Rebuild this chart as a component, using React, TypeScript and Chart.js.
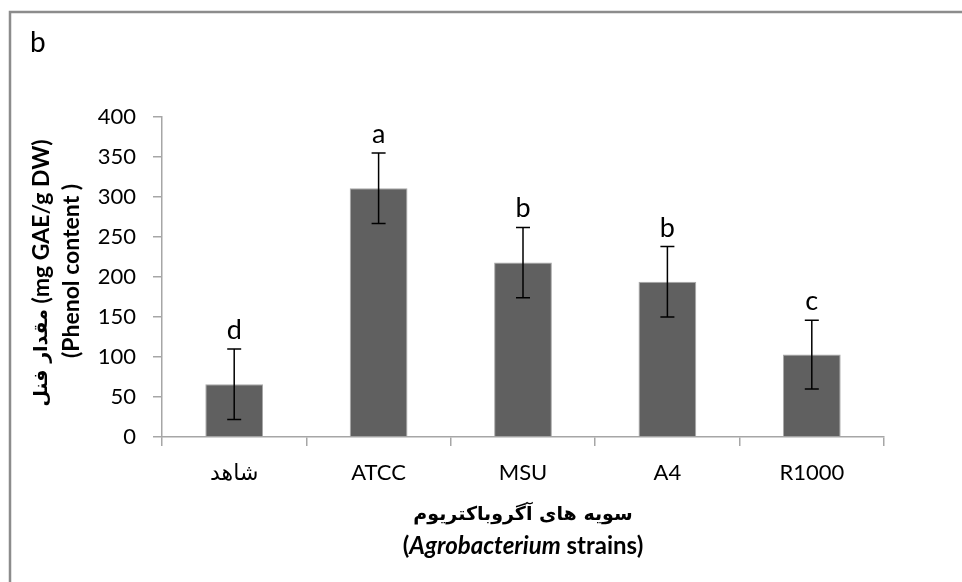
import React, { useEffect, useRef } from "react";
import { Chart, registerables } from "chart.js";

Chart.register(...registerables);

const categories = ["شاهد", "ATCC", "MSU", "A4", "R1000"];
const phenolValues = [66, 311, 218, 194, 103];
const errorValues = [44, 44, 44, 44, 43];
const groupLetters = ["d", "a", "b", "b", "c"];
const yTicks = [0, 50, 100, 150, 200, 250, 300, 350, 400];

const FONT = "Lato, 'DejaVu Sans', sans-serif";
const FA_FONT = "'DejaVu Sans', sans-serif";

function drawPieces(ctx: any, pieces: { t: string; f: string }[], cx: number, y: number) {
  const widths = pieces.map((p) => {
    ctx.font = p.f;
    return ctx.measureText(p.t).width;
  });
  const total = widths.reduce((a, b) => a + b, 0);
  let sx = cx - total / 2;
  ctx.textAlign = "left";
  pieces.forEach((p, i) => {
    ctx.font = p.f;
    ctx.fillText(p.t, sx, y);
    sx += widths[i];
  });
}

const overlayPlugin = {
  id: "overlay",
  afterDatasetsDraw(chart: any) {
    const ctx = chart.ctx;
    const xs = chart.scales.x;
    const ys = chart.scales.y;
    const area = chart.chartArea;
    ctx.save();
    ctx.direction = "ltr";
    // outer frame (top and left)
    ctx.strokeStyle = "#8c8c8c";
    ctx.lineWidth = 2.5;
    ctx.beginPath();
    ctx.moveTo(10, 582);
    ctx.lineTo(10, 12);
    ctx.lineTo(962, 12);
    ctx.stroke();

    // panel letter
    ctx.fillStyle = "#000";
    ctx.font = `28px ${FONT}`;
    ctx.textAlign = "left";
    ctx.textBaseline = "alphabetic";
    ctx.fillText("b", 30, 52);

    // error bars and letters
    ctx.strokeStyle = "#000";
    ctx.lineWidth = 1.5;
    phenolValues.forEach((v, i) => {
      const x = xs.getPixelForValue(i);
      const yTop = ys.getPixelForValue(v + errorValues[i]);
      const yBot = ys.getPixelForValue(v - errorValues[i]);
      ctx.beginPath();
      ctx.moveTo(x, yTop);
      ctx.lineTo(x, yBot);
      ctx.moveTo(x - 7, yTop);
      ctx.lineTo(x + 7, yTop);
      ctx.moveTo(x - 7, yBot);
      ctx.lineTo(x + 7, yBot);
      ctx.stroke();
      ctx.font = `27px ${FONT}`;
      ctx.textAlign = "center";
      ctx.textBaseline = "alphabetic";
      ctx.fillText(groupLetters[i], x, yTop - 10);
    });

    // y axis title (rotated)
    ctx.save();
    ctx.translate(0, 273);
    ctx.rotate(-Math.PI / 2);
    ctx.textBaseline = "middle";
    drawPieces(
      ctx,
      [
        { t: "مقدار فنل", f: `bold 19px ${FA_FONT}` },
        { t: " (mg GAE/g DW)", f: `bold 23px ${FONT}` },
      ],
      0,
      42
    );
    drawPieces(ctx, [{ t: "(Phenol content )", f: `bold 23px ${FONT}` }], 2, 72);
    ctx.restore();

    // x axis title
    const cx = (area.left + area.right) / 2;
    ctx.textBaseline = "middle";
    drawPieces(ctx, [{ t: "سویه های آگروباکتریوم", f: `bold 19px ${FA_FONT}` }], cx, 515);
    drawPieces(
      ctx,
      [
        { t: "(", f: `bold 24px ${FONT}` },
        { t: "Agrobacterium", f: `italic bold 24px ${FONT}` },
        { t: " strains)", f: `bold 24px ${FONT}` },
      ],
      cx,
      546
    );
    ctx.restore();
  },
};

export default function App() {
  const canvasRef = useRef<HTMLCanvasElement | null>(null);

  useEffect(() => {
    if (!canvasRef.current) return;
    const chart = new Chart(canvasRef.current, {
      type: "bar",
      data: {
        labels: categories,
        datasets: [
          {
            data: phenolValues,
            backgroundColor: "#606060",
            borderColor: "#a8a8a8",
            borderWidth: 1,
            barPercentage: 0.4,
            categoryPercentage: 1,
          },
        ],
      },
      options: {
        animation: false,
        responsive: false,
        devicePixelRatio: 1,
        layout: { padding: { left: 0, right: 78, top: 117, bottom: 0 } },
        plugins: {
          legend: { display: false },
          tooltip: { enabled: false },
          title: { display: false },
        },
        scales: {
          x: {
            offset: true,
            grid: {
              offset: true,
              drawOnChartArea: false,
              drawTicks: true,
              tickLength: 9,
              color: "#a6a6a6",
              lineWidth: 1.5,
            },
            border: { color: "#a6a6a6", width: 1.5 },
            ticks: {
              color: "#000",
              font: { family: FONT, size: 22 },
              padding: 14,
              maxRotation: 0,
            },
            afterFit(scale: any) {
              scale.height = 145;
            },
          },
          y: {
            min: 0,
            max: 400,
            afterBuildTicks(scale: any) {
              scale.ticks = yTicks.map((v) => ({ value: v }));
            },
            grid: {
              drawOnChartArea: false,
              drawTicks: true,
              tickLength: 9,
              color: "#a6a6a6",
              lineWidth: 1.5,
            },
            border: { color: "#a6a6a6", width: 1.5 },
            ticks: {
              color: "#000",
              font: { family: FONT, size: 22 },
              padding: 17,
            },
            afterFit(scale: any) {
              scale.width = 162;
            },
          },
        },
      },
      plugins: [overlayPlugin],
    });
    return () => chart.destroy();
  }, []);

  return (
    <div style={{ position: "absolute", left: 0, top: 0, width: 962, height: 582, background: "#fff" }}>
      <canvas ref={canvasRef} width={962} height={582} style={{ display: "block" }} />
    </div>
  );
}
